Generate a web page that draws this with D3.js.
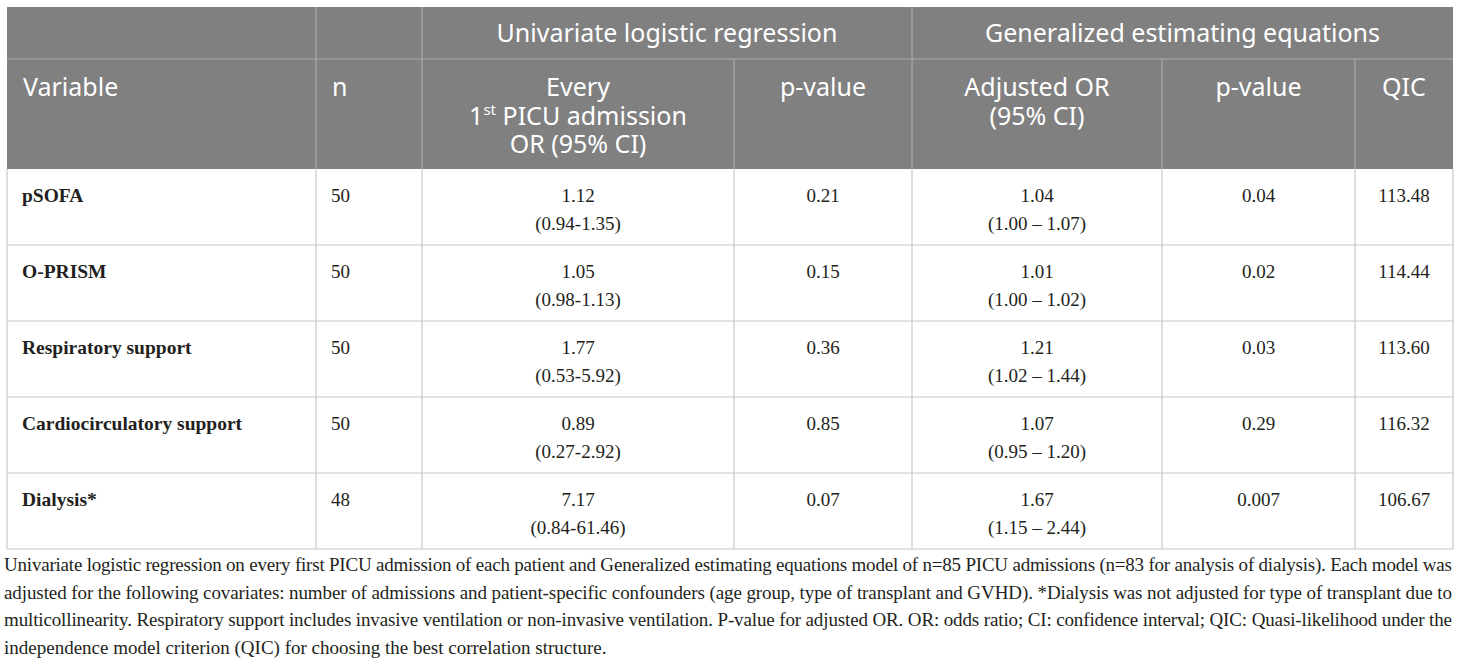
<!DOCTYPE html>
<html>
<head>
<meta charset="utf-8">
<script src="https://cdn.jsdelivr.net/npm/d3@7"></script>
<style>
  body { margin: 0; background: #fff; }
  svg { display: block; }
</style>
</head>
<body>
<div id="table"></div>
<script>
// Table data
const variables = ["pSOFA", "O-PRISM", "Respiratory support", "Cardiocirculatory support", "Dialysis*"];
const nValues = ["50", "50", "50", "50", "48"];
const uniOR = ["1.12", "1.05", "1.77", "0.89", "7.17"];
const uniCI = ["(0.94-1.35)", "(0.98-1.13)", "(0.53-5.92)", "(0.27-2.92)", "(0.84-61.46)"];
const uniP = ["0.21", "0.15", "0.36", "0.85", "0.07"];
const geeOR = ["1.04", "1.01", "1.21", "1.07", "1.67"];
const geeCI = ["(1.00 \u2013 1.07)", "(1.00 \u2013 1.02)", "(1.02 \u2013 1.44)", "(0.95 \u2013 1.20)", "(1.15 \u2013 2.44)"];
const geeP = ["0.04", "0.02", "0.03", "0.29", "0.007"];
const qic = ["113.48", "114.44", "113.60", "116.32", "106.67"];

const groupHeaders = ["Univariate logistic regression", "Generalized estimating equations"];
const footnote = [
    "Univariate logistic regression on every first PICU admission of each patient and Generalized estimating equations model of n=85 PICU admissions (n=83 for analysis of dialysis). Each model was",
    "adjusted for the following covariates: number of admissions and patient-specific confounders (age group, type of transplant and GVHD). *Dialysis was not adjusted for type of transplant due to",
    "multicollinearity. Respiratory support includes invasive ventilation or non-invasive ventilation. P-value for adjusted OR. OR: odds ratio; CI: confidence interval; QIC: Quasi-likelihood under the",
    "independence model criterion (QIC) for choosing the best correlation structure."
];

//Size
var w = 1460;
var h = 661;

var keys = ["variable", "n", "uniOR", "uniP", "geeOR", "geeP", "qic"];
var edges = [7, 316, 422, 734, 912, 1162, 1355, 1453];

//Column scales (left / right edge of each column)
var xLeft = d3.scaleOrdinal().domain(keys).range(edges.slice(0, -1));
var xRight = d3.scaleOrdinal().domain(keys).range(edges.slice(1));
var xMid = k => (xLeft(k) + xRight(k)) / 2;

//Row scale
var y = d3.scaleBand().domain(variables).range([169, 549]);

var headTop = 7, headMid = 59, headBottom = 169;
var lineGap = 28.5;

var svg = d3.select("#table")
    .append("svg")
    .attr("width", w)
    .attr("height", h);

//Header background
svg.append("rect")
    .attr("x", edges[0])
    .attr("y", headTop)
    .attr("width", edges[edges.length - 1] - edges[0])
    .attr("height", headBottom - headTop)
    .attr("fill", "#808080");

//Header grid lines
var headLines = svg.append("g")
    .attr("stroke", "#a9a9a9")
    .attr("stroke-width", 1.2);

headLines.append("line")
    .attr("x1", edges[0]).attr("x2", edges[edges.length - 1])
    .attr("y1", headMid).attr("y2", headMid);

headLines.selectAll("line.full")
    .data(["n", "uniOR", "geeOR"])
    .join("line")
    .attr("class", "full")
    .attr("x1", d => xLeft(d)).attr("x2", d => xLeft(d))
    .attr("y1", headTop).attr("y2", headBottom);

headLines.selectAll("line.half")
    .data(["uniP", "geeP", "qic"])
    .join("line")
    .attr("class", "half")
    .attr("x1", d => xLeft(d)).attr("x2", d => xLeft(d))
    .attr("y1", headMid).attr("y2", headBottom);

//Header text
var headFont = "'Noto Sans', 'Open Sans', sans-serif";
var head = svg.append("g")
    .attr("fill", "#fff")
    .style("font-family", headFont)
    .style("font-size", "25px");

head.selectAll("text.group")
    .data([[groupHeaders[0], "uniOR", "uniP"], [groupHeaders[1], "geeOR", "qic"]])
    .join("text")
    .attr("class", "group")
    .attr("x", d => (xLeft(d[1]) + xRight(d[2])) / 2)
    .attr("y", 42)
    .attr("text-anchor", "middle")
    .text(d => d[0]);

var headCells = [
    { col: "variable", lines: ["Variable"], align: "start" },
    { col: "n", lines: ["n"], align: "start" },
    { col: "uniOR", lines: ["Every", null, "OR (95% CI)"], align: "middle" },
    { col: "uniP", lines: ["p-value"], align: "middle" },
    { col: "geeOR", lines: ["Adjusted OR", "(95% CI)"], align: "middle" },
    { col: "geeP", lines: ["p-value"], align: "middle" },
    { col: "qic", lines: ["QIC"], align: "middle" }
];

headCells.forEach(c => {
    c.lines.forEach((t, i) => {
        var el = head.append("text")
            .attr("x", c.align === "start" ? xLeft(c.col) + 16 : xMid(c.col))
            .attr("y", 96 + i * lineGap)
            .attr("text-anchor", c.align);
        if (t === null) {
            //"1st PICU admission" with superscript
            el.append("tspan").text("1");
            el.append("tspan").attr("dy", -10).style("font-size", "15px").text("st");
            el.append("tspan").attr("dy", 10).text(" PICU admission");
        } else {
            el.text(t);
        }
    });
});

//Body grid lines
var grid = svg.append("g")
    .attr("stroke", "#c8c8c8")
    .attr("stroke-width", 1.2);

grid.selectAll("line.row")
    .data(variables)
    .join("line")
    .attr("class", "row")
    .attr("x1", edges[0]).attr("x2", edges[edges.length - 1])
    .attr("y1", d => y(d) + y.bandwidth()).attr("y2", d => y(d) + y.bandwidth());

grid.selectAll("line.col")
    .data(edges)
    .join("line")
    .attr("class", "col")
    .attr("x1", d => d).attr("x2", d => d)
    .attr("y1", headBottom).attr("y2", y.range()[1]);

//Body text
var bodyFont = "'Liberation Serif', 'Times New Roman', serif";
var rows = svg.selectAll("g.rowtext")
    .data(variables.map((v, i) => ({
        variable: v, n: nValues[i], uniOR: uniOR[i], uniCI: uniCI[i], uniP: uniP[i],
        geeOR: geeOR[i], geeCI: geeCI[i], geeP: geeP[i], qic: qic[i]
    })))
    .join("g")
    .attr("class", "rowtext")
    .attr("transform", d => `translate(0,${y(d.variable) + 33})`)
    .style("font-family", bodyFont)
    .style("font-size", "19px")
    .attr("fill", "#231f20");

rows.append("text")
    .attr("x", xLeft("variable") + 15)
    .style("font-weight", "bold")
    .style("font-size", "19.5px")
    .text(d => d.variable);

rows.append("text")
    .attr("x", xLeft("n") + 15)
    .text(d => d.n);

["uniOR", "uniP", "geeOR", "geeP", "qic"].forEach(k => {
    rows.append("text")
        .attr("x", xMid(k))
        .attr("text-anchor", "middle")
        .text(d => d[k]);
});

rows.append("text")
    .attr("x", xMid("uniOR"))
    .attr("y", 28)
    .attr("text-anchor", "middle")
    .text(d => d.uniCI);

rows.append("text")
    .attr("x", xMid("geeOR"))
    .attr("y", 28)
    .attr("text-anchor", "middle")
    .text(d => d.geeCI);

//Footnote
svg.append("g")
    .style("font-family", bodyFont)
    .style("font-size", "19px")
    .attr("fill", "#231f20")
    .selectAll("text")
    .data(footnote)
    .join("text")
    .attr("x", 4)
    .attr("y", (d, i) => 571 + i * 27.5)
    .attr("textLength", (d, i) => i < footnote.length - 1 ? 1448 : null)
    .attr("lengthAdjust", "spacing")
    .text(d => d);
</script>
</body>
</html>
